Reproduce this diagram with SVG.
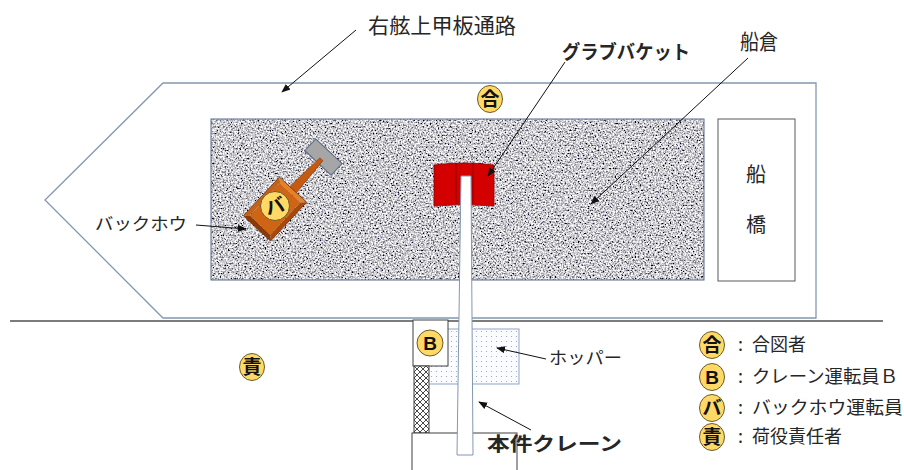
<svg xmlns="http://www.w3.org/2000/svg" width="904" height="470" viewBox="0 0 904 470">
  <defs>
    <style>
      .jp { font-family: "Noto Sans CJK JP", "Noto Sans", sans-serif; fill: #262626; }
      .lbl { font-size: 18px; }
      .badge { fill: #ffd966; stroke: #6b5a2a; stroke-width: 1; }
      .badge-t { font-family: "Noto Sans CJK JP", sans-serif; font-weight: bold; font-size: 19px; fill: #111; text-anchor: middle; }
      .badge-b { font-family: "Liberation Sans", Arial, sans-serif; font-weight: bold; font-size: 19px; fill: #111; text-anchor: middle; }
      .ptr { stroke: #111; stroke-width: 1; fill: none; marker-end: url(#arr); }
      .box { fill: #fff; stroke: #404040; stroke-width: 1; }
    </style>
    <marker id="arr" viewBox="0 0 10 10" refX="9" refY="5" markerWidth="9" markerHeight="9" markerUnits="userSpaceOnUse" orient="auto">
      <path d="M0,1 L10,5 L0,9 z" fill="#111"/>
    </marker>
    <!-- speckled granite surface for the cargo hold -->
    <filter id="granite" x="0" y="0" width="100%" height="100%">
      <feTurbulence type="fractalNoise" baseFrequency="0.6" numOctaves="2" seed="7" result="n"/>
      <feColorMatrix in="n" type="matrix" values="2.4 0 0 0 -0.6  2.4 0 0 0 -0.6  2.4 0 0 0 -0.57  0 0 0 0 1" result="g"/>
      <feComposite in="g" in2="SourceGraphic" operator="in"/>
    </filter>
    <pattern id="dots" width="5" height="5" patternUnits="userSpaceOnUse">
      <rect width="5" height="5" fill="#fbfcff"/>
      <circle cx="1.5" cy="1.5" r="0.6" fill="#8fa0bd"/>
    </pattern>
    <pattern id="hatch" width="6" height="6" patternUnits="userSpaceOnUse">
      <rect width="6" height="6" fill="#fff"/>
      <path d="M0,0 L6,6 M6,0 L0,6" stroke="#333" stroke-width="0.9"/>
    </pattern>
  </defs>

  <!-- ship hull and ground line -->
  <g id="ship">
    <polygon points="163,83 816,83 816,318 163,318 45,200" fill="#fff" stroke="#8497b0" stroke-width="1.3"/>
  </g>
  <line x1="10" y1="321" x2="883" y2="321" stroke="#505050" stroke-width="1.5"/>

  <!-- cargo hold -->
  <g id="hold">
    <rect x="211" y="119" width="493" height="161" fill="#999" filter="url(#granite)"/>
    <rect x="211" y="119" width="493" height="161" fill="none" stroke="#5a6890" stroke-width="1"/>
  </g>

  <!-- bridge -->
  <g id="bridge">
    <rect x="718" y="119" width="77" height="162" fill="#fff" stroke="#595959" stroke-width="1"/>
    <text class="jp" x="756" y="182" font-size="20" text-anchor="middle" fill="#444">船</text>
    <text class="jp" x="756" y="232" font-size="20" text-anchor="middle" fill="#444">橋</text>
  </g>

  <!-- backhoe -->
  <g id="backhoe" transform="translate(275,209) rotate(43)">
    <rect x="-18" y="-79" width="36" height="16" fill="#a6a6a6" stroke="#5b6b8a" stroke-width="1"/>
    <polygon points="-4.5,-26 4.5,-26 2,-68 -2,-68" fill="#c55a11" stroke="#9a420a" stroke-width="0.8"/>
    <polygon points="-18.5,-26.5 18.5,-26.5 14,-22 -14,-22" fill="#e2822f"/>
    <polygon points="18.5,-26.5 18.5,26.5 14,22 14,-22" fill="#a8480c"/>
    <polygon points="18.5,26.5 -18.5,26.5 -14,22 14,22" fill="#8a3a08"/>
    <polygon points="-18.5,26.5 -18.5,-26.5 -14,-22 -14,22" fill="#c4621a"/>
    <rect x="-14" y="-22" width="28" height="44" fill="#cf6415"/>
    <rect x="-18.5" y="-26.5" width="37" height="53" fill="none" stroke="#7a3306" stroke-width="0.8"/>
  </g>
  <g id="badge-backhoe">
    <circle class="badge" cx="275" cy="206" r="14.5"/>
    <text class="badge-t" x="275" y="213" font-size="21" transform="rotate(-15 275 206)">バ</text>
  </g>

  <!-- hopper -->
  <g id="hopper">
    <rect x="428" y="329" width="91" height="55" fill="url(#dots)" stroke="#8ea3c8" stroke-width="1"/>
  </g>

  <!-- crane operator cabin, tower and base -->
  <g id="crane-cabin">
    <rect class="box" x="413" y="320" width="35" height="46"/>
    <circle class="badge" cx="430" cy="343" r="13"/>
    <text class="badge-b" x="430" y="350">B</text>
  </g>
  <g id="crane-tower">
    <rect x="414" y="366" width="15" height="67" fill="url(#hatch)" stroke="#404040" stroke-width="1"/>
  </g>
  <g id="crane-base">
    <rect class="box" x="412" y="433" width="105" height="45"/>
  </g>

  <!-- grab bucket -->
  <g id="grab-bucket">
    <path d="M434,165 Q464,161 494,165 L494,206 Q464,203 434,206 Z" fill="#d40000" stroke="#8b0000" stroke-width="0.8"/>
    <line x1="456" y1="163" x2="456" y2="204" stroke="#7a0000" stroke-width="0.9"/>
    <line x1="473" y1="163" x2="473" y2="204" stroke="#7a0000" stroke-width="0.9"/>
  </g>

  <!-- crane jib -->
  <g id="crane-jib">
    <polygon points="461,176 471,176 473,455 457,455" fill="#fff" stroke="#8497b0" stroke-width="1"/>
  </g>

  <!-- signal man on deck, cargo supervisor on quay -->
  <g id="badge-signal">
    <ellipse class="badge" cx="490" cy="99" rx="12.5" ry="13.5"/>
    <text class="badge-t" x="490" y="106">合</text>
  </g>
  <g id="badge-supervisor">
    <ellipse class="badge" cx="252" cy="367" rx="12.5" ry="13.5"/>
    <text class="badge-t" x="252" y="374">責</text>
  </g>

  <!-- callout labels -->
  <g id="labels">
    <text class="jp" x="368" y="33" font-size="21" textLength="148" lengthAdjust="spacingAndGlyphs">右舷上甲板通路</text>
    <text class="jp" x="562" y="59" font-size="19" font-weight="bold" textLength="128" lengthAdjust="spacingAndGlyphs">グラブバケット</text>
    <text class="jp" x="740" y="49" font-size="21" textLength="38" lengthAdjust="spacingAndGlyphs">船倉</text>
    <text class="jp" x="95" y="230" font-size="17" textLength="92" lengthAdjust="spacingAndGlyphs">バックホウ</text>
    <text class="jp" x="549" y="364" font-size="17" textLength="73" lengthAdjust="spacingAndGlyphs">ホッパー</text>
    <text class="jp" x="487" y="451" font-size="19" font-weight="bold" textLength="135" lengthAdjust="spacingAndGlyphs">本件クレーン</text>
  </g>

  <!-- leader arrows -->
  <g id="connectors">
    <line class="ptr" x1="356" y1="30" x2="282" y2="92"/>
    <line class="ptr" x1="565" y1="62" x2="488" y2="176"/>
    <line class="ptr" x1="748" y1="58" x2="591" y2="204"/>
    <line class="ptr" x1="196" y1="225" x2="246" y2="229"/>
    <line class="ptr" x1="546" y1="359" x2="497" y2="348"/>
    <line class="ptr" x1="531" y1="430" x2="479" y2="402"/>
  </g>

  <!-- legend -->
  <g id="legend">
    <g id="legend-signal">
      <ellipse class="badge" cx="712" cy="345" rx="12.5" ry="13.5"/>
      <text class="badge-t" x="712" y="352">合</text>
      <text class="jp lbl" x="738" y="351">:</text>
      <text class="jp lbl" x="752" y="351">合図者</text>
    </g>
    <g id="legend-crane">
      <ellipse class="badge" cx="712" cy="377" rx="12.5" ry="13.5"/>
      <text class="badge-b" x="712" y="384">B</text>
      <text class="jp lbl" x="738" y="383">:</text>
      <text class="jp lbl" x="752" y="383" textLength="146" lengthAdjust="spacingAndGlyphs">クレーン運転員Ｂ</text>
    </g>
    <g id="legend-backhoe">
      <ellipse class="badge" cx="712" cy="408" rx="12.5" ry="13.5"/>
      <text class="badge-t" x="712" y="415">バ</text>
      <text class="jp lbl" x="738" y="414">:</text>
      <text class="jp lbl" x="752" y="414" textLength="151" lengthAdjust="spacingAndGlyphs">バックホウ運転員</text>
    </g>
    <g id="legend-supervisor">
      <ellipse class="badge" cx="712" cy="437" rx="12.5" ry="13.5"/>
      <text class="badge-t" x="712" y="444">責</text>
      <text class="jp lbl" x="738" y="443">:</text>
      <text class="jp lbl" x="752" y="443">荷役責任者</text>
    </g>
  </g>
</svg>
